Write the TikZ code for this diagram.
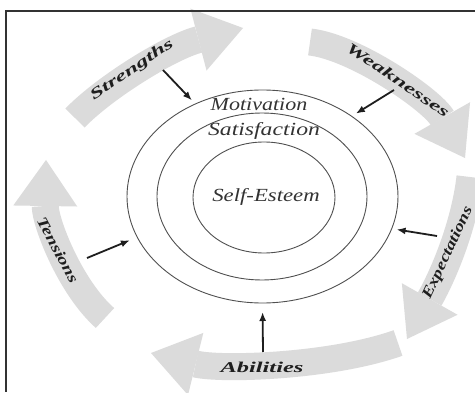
\documentclass[tikz,border=0pt]{standalone}
\usepackage{fontspec}
\usepackage{graphicx}
\setmainfont{Liberation Serif}
\usetikzlibrary{arrows.meta,shapes.geometric,calc}
\definecolor{band}{HTML}{DBDBDB}
\definecolor{ink}{HTML}{1E1E1E}
\definecolor{ring}{HTML}{505050}
\definecolor{soft}{HTML}{333333}
\begin{document}
\begin{tikzpicture}[x=1pt,y=1pt,
  garrow/.style={draw=band, line width=27pt, -{Triangle[width=64pt,length=46pt,line width=0pt]}},
  ringst/.style={ellipse, draw=ring, line width=0.9pt, inner sep=0pt, outer sep=0pt},
  inlab/.style={font=\fontsize{18.5}{21}\selectfont\itshape, text=soft, inner sep=0pt},
  outlab/.style={font=\fontsize{15}{17}\selectfont\bfseries\itshape, text=ink, inner sep=0pt},
  blk/.style={draw=ink, line width=1.8pt, -{Latex[length=9pt,width=7pt]}},
  framest/.style={draw=black!80, line width=2pt}]
\useasboundingbox (0,0) rectangle (475,392);
\fill[white] (0,0) rectangle (475,392);
% gray circular arrows
\draw[garrow] (75,274) .. controls (105,305) and (170,345) .. (243,364);
\draw[garrow] (310,350) .. controls (355,345) and (432,292) .. (465,234);
\draw[garrow] (470,215) .. controls (465,170) and (445,120) .. (407,53);
\draw[garrow] (398,49) .. controls (330,25) and (220,22) .. (151,39);
\draw[garrow] (105,74) .. controls (70,105) and (45,170) .. (46,232);
% rings
\node[ringst, minimum width=271pt, minimum height=213pt] (outer) at (262.5,195.5) {};
\node[ringst, minimum width=210pt, minimum height=167pt] (middle) at (262,195.5) {};
\node[ringst, minimum width=142pt, minimum height=111pt] (inner) at (264,194.5) {};
% inner labels
\node[inlab] (mot) at (259,288) {\scalebox{1.19}[1]{Motivation}};
\node[inlab] (sat) at (264,261) {\scalebox{1.28}[1]{Satisfaction}};
\node[inlab] (se) at (266,195) {\scalebox{1.23}[1]{Self-Esteem}};
% outer labels
\node[outlab, rotate=65] (lE) at (448,139) {\scalebox{1.25}[1]{Expectations}};
\node[outlab, rotate=34] (lS) at (132,322) {\scalebox{1.64}[1]{Strengths}};
\node[outlab, rotate=-34] (lW) at (398,312) {\scalebox{1.65}[1]{Weaknesses}};
\node[outlab] (lA) at (262,25) {\scalebox{1.63}[1]{Abilities}};
\node[outlab, rotate=-62] (lT) at (58,142) {\scalebox{1.33}[1]{Tensions}};
% black arrows
\coordinate (sS) at (163,322);
\coordinate (sW) at (394,302);
\coordinate (sE) at (437,156);
\coordinate (sA) at (263,40);
\coordinate (sT) at (87,134);
\draw[blk, shorten >=5pt] (sS) -- (outer.126);
\draw[blk, shorten >=5pt] (sW) -- (outer.42);
\draw[blk, shorten >=5pt] (sE) -- (outer.-14);
\draw[blk, shorten >=9pt] (sA) -- (outer.-90);
\draw[blk, shorten >=8pt] (sT) -- (outer.198);
% frame
\coordinate (fR) at (475,381);
\coordinate (fC) at (6,381);
\coordinate (fB) at (6,0);
\draw[framest] (fR) -- (fC) -- (fB);
\end{tikzpicture}
\end{document}
